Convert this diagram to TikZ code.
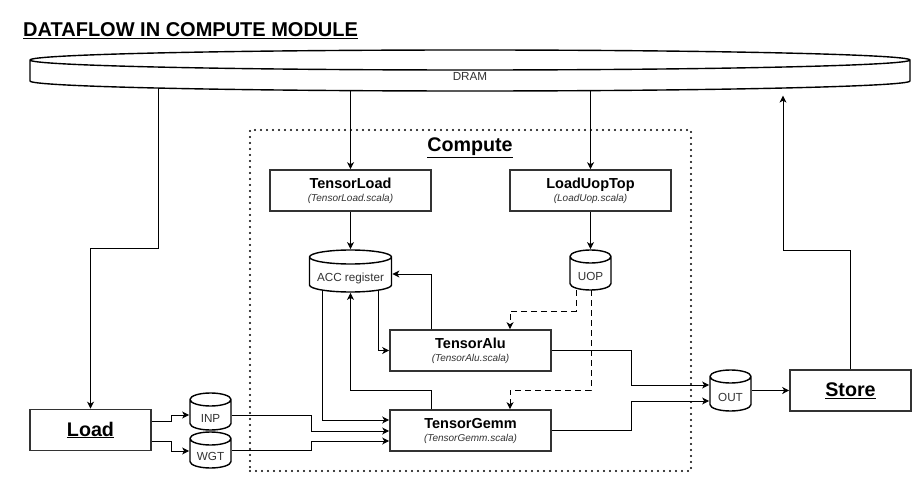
\documentclass[tikz,border=0pt]{standalone}
\usepackage{fontspec}
\setmainfont{Liberation Sans}
\usetikzlibrary{shapes.geometric, arrows.meta, positioning, backgrounds, calc}

\definecolor{boxline}{HTML}{333333}
\definecolor{txtgray}{HTML}{333333}

\newcommand{\modlabel}[2]{{\fontsize{14.5}{17}\selectfont\bfseries #1}\\[1pt]
  {\fontsize{10}{12}\selectfont\itshape\color{txtgray}#2}}

\begin{document}
\begin{tikzpicture}[x=1pt, y=-1pt,
  modbox/.style={draw=boxline, line width=1.6pt, fill=white, minimum width=161pt,
                 minimum height=41pt, align=center, inner sep=0pt},
  unitbox/.style={modbox, minimum width=121pt,
                  font=\fontsize{19.7}{22}\selectfont\bfseries},
  db/.style={inner sep=0pt, text=txtgray, font=\fontsize{11.7}{13}\selectfont,
             text height=21pt, text depth=0pt,
    path picture={
      \draw[x=1pt, y=1pt, line width=1.4pt, fill=white]
        let \p1=(path picture bounding box.south west),
            \p2=(path picture bounding box.north east),
            \n1={(\x2-\x1)/2-0.7pt}, \n2={#1*1pt}
        in ({\x1+0.7pt},{\y2-0.7pt-\n2}) -- ({\x1+0.7pt},{\y1+0.7pt+\n2})
           arc[start angle=180, end angle=360, x radius=\n1, y radius=\n2]
           -- ({\x2-0.7pt},{\y2-0.7pt-\n2})
           arc[start angle=0, end angle=180, x radius=\n1, y radius=\n2]
           -- cycle
           ({\x1+0.7pt},{\y2-0.7pt-\n2})
           arc[start angle=180, end angle=360, x radius=\n1, y radius=\n2];
    }},
  db/.default=7,
  arr/.style={-{Stealth[length=7pt, width=7pt, inset=2pt]}, line width=0.9pt},
  ctrl/.style={arr, dash pattern=on 6pt off 4pt}]
  \useasboundingbox (0,0) rectangle (921,481);

  \node[anchor=base west, inner sep=0pt, font=\fontsize{20}{22}\selectfont\bfseries] (title)
    at (23,37) {\underline{DATAFLOW IN COMPUTE MODULE}};

  % memory and outer units
  \node[db=10, minimum width=881.4pt, minimum height=42.4pt] (dram)
    at (470,70.5) {DRAM};
  \node[unitbox] (load) at (90.5,430) {\underline{Load}};
  \node[unitbox] (store) at (850.5,390.5) {\underline{Store}};

  % compute module
  \node[draw, line width=2.2pt, dash pattern=on 0pt off 6pt, line cap=round,
        minimum width=441pt, minimum height=341pt] (compute) at (470.5,300.5) {};
  \node[anchor=base, font=\fontsize{19.7}{22}\selectfont\bfseries] (ctitle)
    at (470,152) {\underline{Compute}};

  \node[modbox] (tload) at (350.5,190.5) {\modlabel{TensorLoad}{(TensorLoad.scala)}};
  \node[modbox] (luop) at (590.5,190.5) {\modlabel{LoadUopTop}{(LoadUop.scala)}};
  \node[modbox] (alu) at (470.5,350.5) {\modlabel{TensorAlu}{(TensorAlu.scala)}};
  \node[modbox] (gemm) at (470.5,430.5) {\modlabel{TensorGemm}{(TensorGemm.scala)}};

  \node[db, minimum width=83.4pt, minimum height=43.4pt] (acc)
    at (350.5,271) {ACC register};
  \node[db=6.5, minimum width=42.4pt, minimum height=41.4pt] (uop)
    at (590.5,270) {UOP};
  \node[db=6.5, minimum width=42.4pt, minimum height=38.4pt] (inp)
    at (210.5,411.5) {INP};
  \node[db=6.5, minimum width=42.4pt, minimum height=37.4pt] (wgt)
    at (210.5,450) {WGT};
  \node[db=6.5, minimum width=42.4pt, minimum height=42.4pt] (out)
    at (730.5,390.5) {OUT};

  \begin{scope}[on background layer]
    % DRAM traffic
    \draw[arr] (dram.center -| 158,0) -- (158,248) -| (load.north);
    \draw[arr] (dram.center -| tload.north) -- (tload.north);
    \draw[arr] (dram.center -| luop.north) -- (luop.north);
    \draw[arr, shorten >=3.7pt] (store.north) |- (783,250) -- (dram.south -| 783,0);

    % load side
    \draw[arr] (load.east |- 0,421) -| (171,415) -- (inp.west |- 0,415);
    \draw[arr] (load.east |- 0,441) -| (171,451) -- (wgt.west |- 0,451);
    \draw[arr] (inp.east |- 0,415) -| (311,431) -- (gemm.west |- 0,431);
    \draw[arr] (wgt.east |- 0,450) -| (311,441) -- (gemm.west |- 0,441);

    % compute internals
    \draw[arr] (tload) -- (acc);
    \draw[arr] (luop) -- (uop);
    \draw[arr] (alu.north -| 431,0) |- (acc.east |- 0,274);
    \draw[arr] (acc.center -| 378,0) |- (alu.west);
    \draw[arr] (acc.center -| 322,0) |- (gemm.west |- 0,420);
    \draw[arr] (gemm.north -| 431,0) |- (350.5,390) -- (acc.south);
    \draw[ctrl] (uop.center -| 576,0) |- (510,311) -- (alu.north -| 510,0);
    \draw[ctrl] (uop.center -| 591,0) |- (510,390) -- (gemm.north -| 510,0);

    % results
    \draw[arr] (alu.east) -| (631,385) -- (out.west |- 0,385);
    \draw[arr] (gemm.east) -| (631,401) -- (out.west |- 0,401);
    \draw[arr] (out) -- (store);
  \end{scope}
\end{tikzpicture}
\end{document}
